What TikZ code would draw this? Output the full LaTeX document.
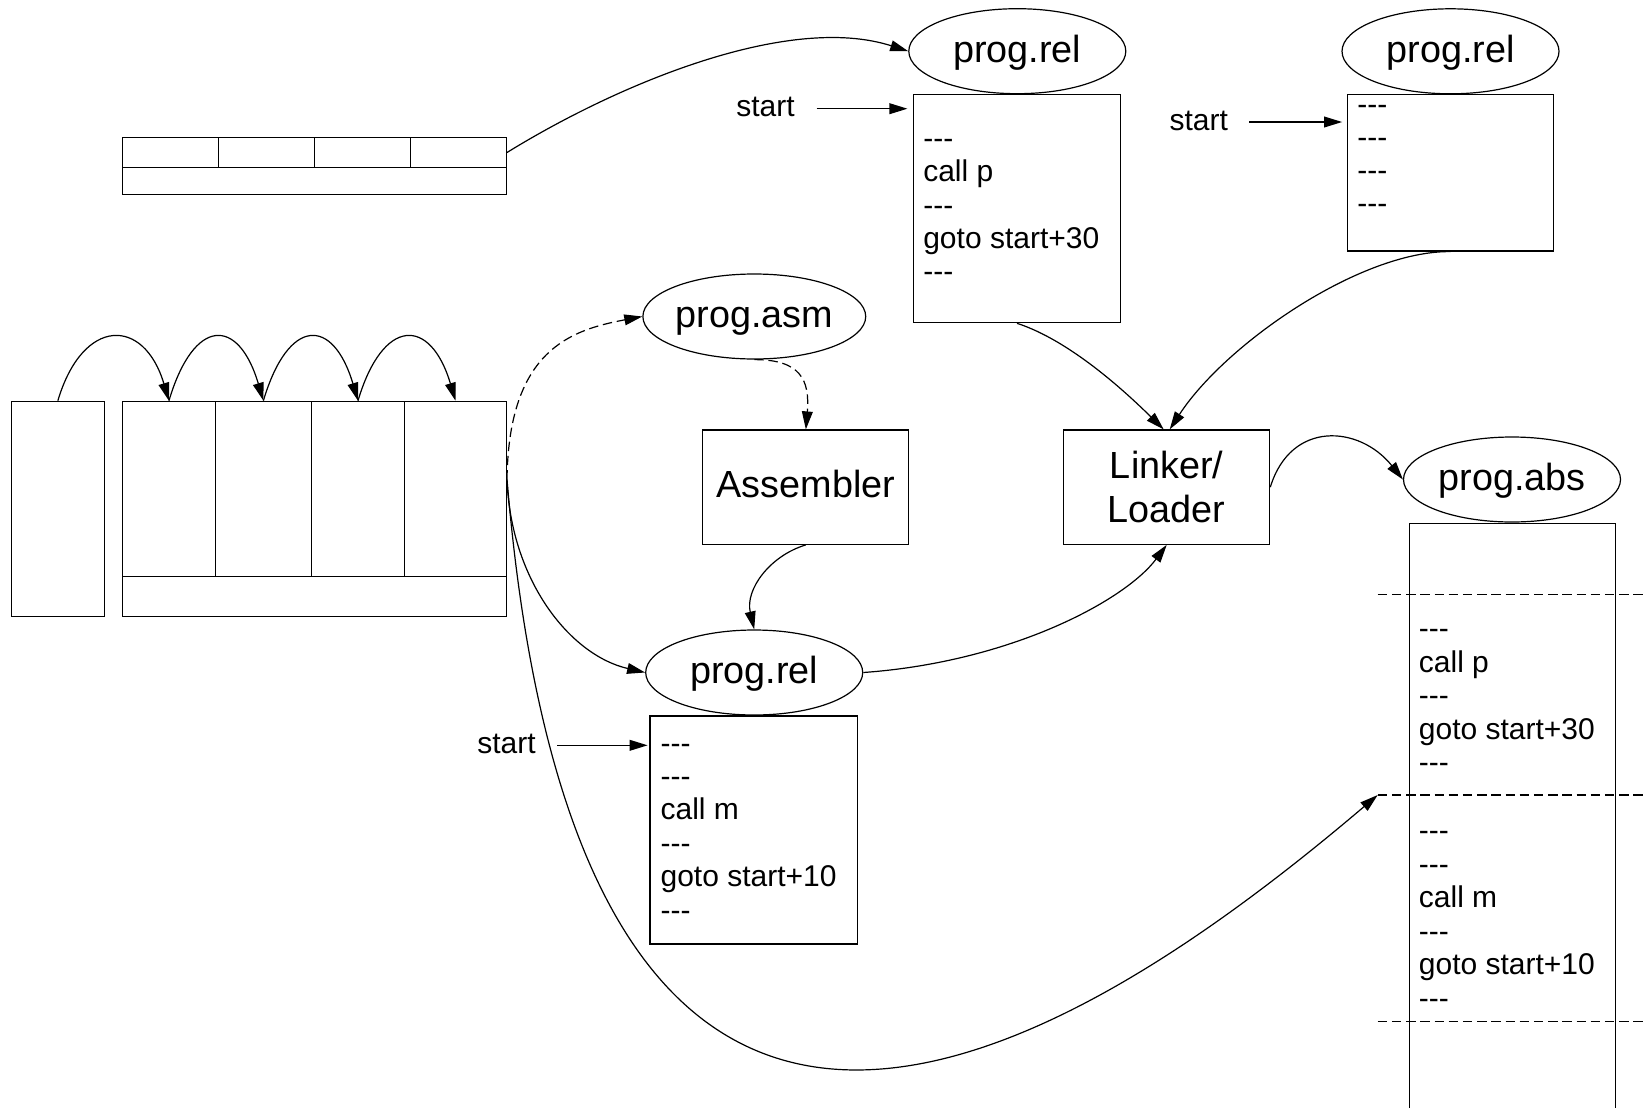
\documentclass[tikz,border=0pt]{standalone}
\usepackage{fontspec}
\setmainfont{Liberation Sans}
\usetikzlibrary{arrows.meta,calc,shapes.geometric}

% three separate hyphens (kept apart so they never merge into a dash)
\newcommand\threedash{\hbox{-}\hbox{-}\hbox{-}}
\newcommand\cdfont{\fontsize{15pt}{16.75pt}\selectfont}
\newcommand\lgfont{\fontsize{18.9pt}{21.7pt}\selectfont}

\tikzset{
  arr/.style={-{Triangle[length=9pt,width=5.4pt]}},
  dashline/.style={dash pattern=on 4.7pt off 2.4pt},
  cell/.style={draw, rectangle, inner sep=0pt},
  file/.style={draw, ellipse, inner sep=0pt, minimum width=108.5pt,
    minimum height=42.5pt, font=\lgfont, text height=14.9pt, text depth=3.9pt},
  procbox/.style={draw, rectangle, inner sep=0pt, minimum width=103pt,
    minimum height=57.15pt, font=\lgfont},
  code/.style={anchor=base west, inner sep=0pt, font=\cdfont},
  startlbl/.style={anchor=base west, inner sep=0pt, font=\cdfont,
    text height=8pt, text depth=0pt},
}

\begin{document}
\begin{tikzpicture}[x=0.5pt, y=-0.5pt, line width=0.6pt]
\useasboundingbox (0,0) rectangle (1647,1108);

% ---- small table (top left)
\node[cell, minimum width=48.05pt, minimum height=14.8pt] (t1) at (170.55,152.5) {};
\node[cell, minimum width=48pt,    minimum height=14.8pt] (t2) at (266.6,152.5) {};
\node[cell, minimum width=48.05pt, minimum height=14.8pt] (t3) at (362.65,152.5) {};
\node[cell, minimum width=47.85pt, minimum height=14.8pt] (t4) at (458.55,152.5) {};
\node[cell, minimum width=191.95pt, minimum height=13.5pt] (tbase) at (314.45,180.8) {};

% ---- large table with its side column
\node[cell, minimum width=46.45pt, minimum height=107.5pt] (side) at (57.85,508.8) {};
\node[cell, minimum width=191.95pt, minimum height=107.5pt] (main) at (314.45,508.8) {};
\node[cell, minimum width=46.45pt, minimum height=87.5pt] (c1) at (168.95,488.8) {};
\node[cell, minimum width=48pt,    minimum height=87.5pt] (c2) at (263.4,488.8) {};
\node[cell, minimum width=46.6pt,  minimum height=87.5pt] (c3) at (358,488.8) {};
\node[cell, minimum width=50.9pt,  minimum height=87.5pt] (c4) at (455.5,488.8) {};
\coordinate (mr) at ($(main.north east)+(0,78.7)$);

% chain of arcs over the columns
\draw[arr] (side.north) .. controls +(25,-84) and +(-25,-84) .. (c1.north);
\draw[arr] (c1.north) .. controls +(25,-84) and +(-25,-84) .. (c2.north);
\draw[arr] (c2.north) .. controls +(25,-84) and +(-25,-84) .. (c3.north);
\draw[arr] (c3.north) .. controls +(25,-84) and +(-25,-84) .. (c4.north);

% ---- files
\node[file] (E1) at (1017.3,51.2) {prog.rel};
\node[file] (E2) at (1450.5,51.3) {prog.rel};
\node[file] (E3) at (754.3,316.5) {prog.asm};
\node[file] (E4) at (754.2,672.5) {prog.rel};
\node[file] (E5) at (1512,479.5) {prog.abs};

% ---- code blocks
\node[cell, minimum width=103.4pt, minimum height=114.2pt] (tm) at (1017,208.5) {};
\node[cell, minimum width=103.2pt, minimum height=78.35pt] (tr) at (1450.5,172.65) {};
\node[cell, minimum width=103.65pt, minimum height=114pt] (bm) at (753.65,830) {};

\foreach \t [count=\i from 0] in {\threedash,call p,\threedash,goto start+30,\threedash}
  \node[code] (tm-\i) at (922.7,{148.4+33.3*\i}) {\t};
\foreach \t [count=\i from 0] in {\threedash,\threedash,\threedash,\threedash}
  \node[code] (tr-\i) at (1356.7,{114+33.3*\i}) {\t};
\foreach \t [count=\i from 0] in {\threedash,\threedash,call m,\threedash,goto start+10,\threedash}
  \node[code] (bm-\i) at (660,{753+33.4*\i}) {\t};

% ---- tools
\node[procbox, text height=13.4pt, text depth=3.2pt] (asm) at (805.85,487.15) {Assembler};
\node[procbox, align=center] (lnk) at (1166.7,487.15) {Linker/\\Loader};

% ---- absolute image
\draw (1409.3,1108) -- (1409.3,523.4) -- (1615.7,523.4) -- (1615.7,1108);
\coordinate (sep1) at (1377.7,594.8);
\coordinate (sep2) at (1377.7,795);
\coordinate (sep3) at (1377.7,1021.3);
\draw[dashline] (sep1) -- (1647,594.8);
\draw[dashline] (sep2) -- (1647,795);
\draw[dashline] (sep3) -- (1647,1021.3);
\foreach \t [count=\i from 0] in {\threedash,call p,\threedash,goto start+30,\threedash}
  \node[code] (ab-\i) at (1418.3,{638.4+33.6*\i}) {\t};
\foreach \t [count=\i from 0] in {\threedash,\threedash,call m,\threedash,goto start+10,\threedash}
  \node[code] (ac-\i) at (1418.3,{840.5+33.6*\i}) {\t};

% ---- start markers
\node[startlbl] (s1) at (735.7,116.7) {start};
\node[startlbl] (s2) at (1169,130) {start};
\node[startlbl] (s3) at (476.7,753.3) {start};
\draw[arr, shorten <=10.7pt, shorten >=2.8pt] (s1.east) -- (s1.east -| tm.west);
\draw[arr, shorten <=10.4pt, shorten >=2.3pt] (s2.east) -- (s2.east -| tr.west);
\draw[arr, shorten <=10.4pt, shorten >=0.9pt] (s3.east) -- (s3.east -| bm.west);

% ---- connectors
\draw[arr] (t4.east) .. controls +(113.6,-70) and +(-118.8,-38) .. (E1.west);
\draw[arr, dashline] (mr) .. controls +(1.6,-130) and +(-71,13.5) .. (E3.west);
\draw[arr, dashline] (E3.south) .. controls +(45.7,0) and +(4.15,-50) .. (asm.north);
\draw[arr] (asm.south) .. controls +(-35.85,10.7) and +(-9.2,-40) .. (E4.north);
\draw[arr] (mr) .. controls +(3.6,100) and +(-75.7,-17.5) .. (E4.west);
\draw[arr] (mr) .. controls +(73.6,880) and +(-317.7,270) .. (sep2);
\draw[arr] (E4.east) .. controls +(147.3,-10.5) and +(-41.7,55.7) .. (lnk.south);
\draw[arr] (tm.south) .. controls +(53,17.3) and +(-38.7,-38) .. ([xshift=-1.5pt]lnk.north);
\draw[arr] (tr.south) .. controls +(-90.5,-1) and +(55.3,-85) .. ([xshift=1.5pt]lnk.north);
\draw[arr] (lnk.east) .. controls +(20.4,-67) and +(-43.65,-54.5) .. (E5.west);
\end{tikzpicture}
\end{document}
